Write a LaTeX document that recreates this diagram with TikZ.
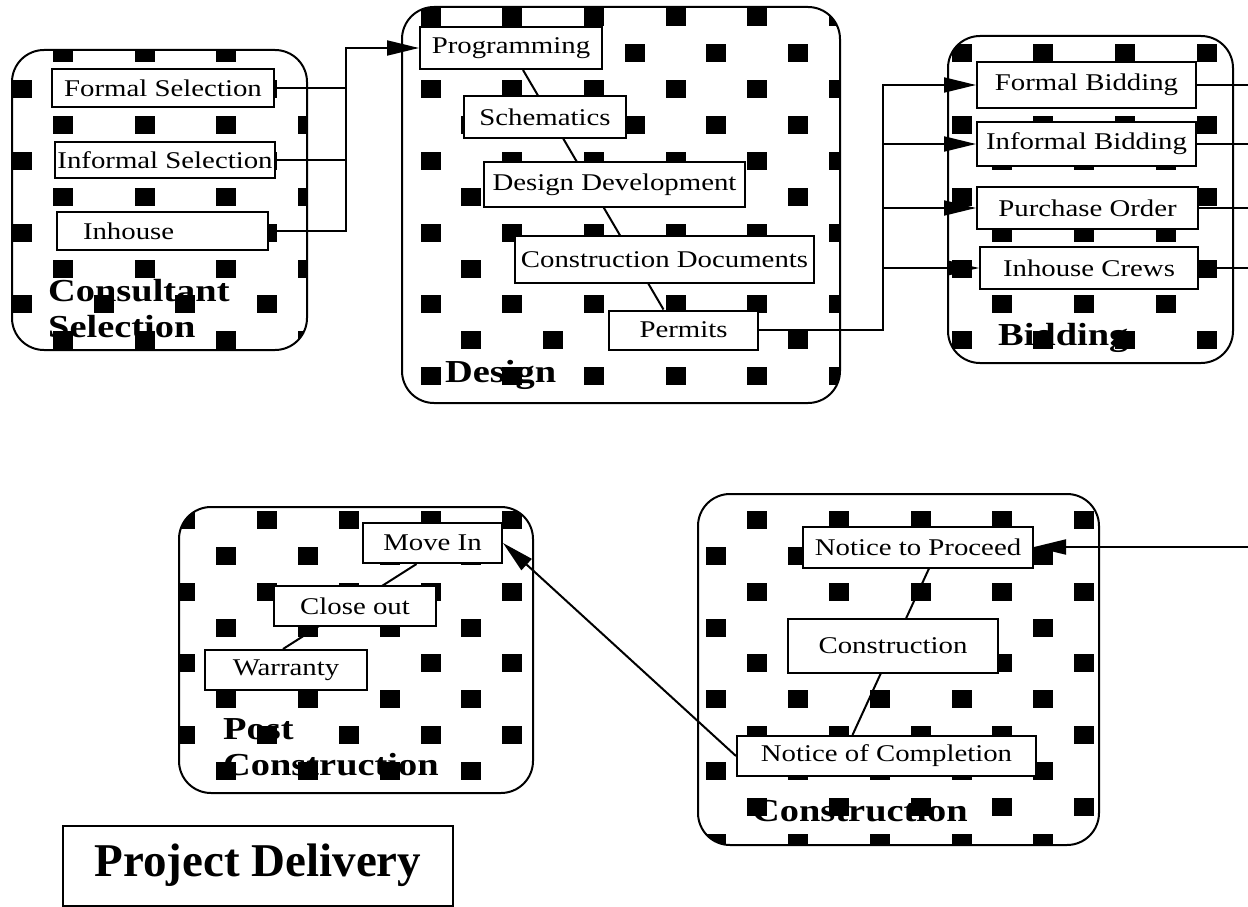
\documentclass[tikz,border=0pt]{standalone}
\usepackage{fontspec}
\setmainfont[FakeStretch=1.2]{Liberation Serif}
\newfontfamily\titlefont{Liberation Serif}
\usetikzlibrary{arrows.meta}
\pgfdeclarelayer{stages}
\pgfdeclarelayer{links}
\pgfsetlayers{stages,links,main}
% black checks of the stage fill, one global grid
\newcommand\checks{%
  \foreach \m in {-3,...,23}
    \foreach \k in {-1,...,15}
      {\fill ({12+81.7*\k+40.85*mod(\m+30,2)},{80+35.9*\m}) rectangle ++(20,18);}}
\begin{document}
\begin{tikzpicture}[x=1pt, y=-1pt,
  >={Triangle[length=32pt,width=15pt]},
  task/.style={draw, fill=white, line width=2pt, inner sep=0pt,
    font=\fontsize{24}{28}\selectfont},
  phase/.style={anchor=base west, align=left, inner sep=0pt,
    font=\fontsize{32}{36}\selectfont\bfseries}]
\useasboundingbox (0,0) rectangle (1248,907);
% stages: white box, label, checks, outline
\begin{pgfonlayer}{stages}
\foreach \x/\y/\X/\Y in {12/50/307/350, 402/7/840/403, 948/36/1233/363,
    179/507/533/793, 698/494/1099/845}
  {\fill[white, rounded corners=32] (\x,\y) rectangle (\X,\Y);}
\node[phase] (lcons) at (48,337) {Consultant\\Selection};
\node[phase] (ldes) at (445,382) {Design};
\node[phase] (lbid) at (998,345) {Bidding};
\node[phase] (lpost) at (223,775) {Post\\Construction};
\node[phase] (lbuild) at (752,821) {Construction};
\foreach \x/\y/\X/\Y in {12/50/307/350, 402/7/840/403, 948/36/1233/363,
    179/507/533/793, 698/494/1099/845}
  {\begin{scope}
   \clip[rounded corners=32] (\x,\y) rectangle (\X,\Y);
   \checks
   \end{scope}
   \draw[rounded corners=32, line width=2pt] (\x,\y) rectangle (\X,\Y);}
\end{pgfonlayer}
% steps of every stage
\foreach \n/\x/\y/\w/\h/\t in {
    fsel/163/88/222/37/Formal Selection,
    isel/165/160/220/36/Informal Selection,
    prog/511/48/182/42/Programming,
    schem/545/117/162/42/Schematics,
    dd/614.5/184.5/261/45/Design Development,
    cd/664.5/259.5/299/47/Construction Documents,
    perm/683.5/330/149/39/Permits,
    fbid/1086.5/85/219/45/Formal Bidding,
    ibid/1086.5/144/219/44/Informal Bidding,
    po/1087.5/208/221/42/Purchase Order,
    crews/1089/268/218/42/Inhouse Crews,
    movein/432.5/543/139/40/Move In,
    close/355/606/162/40/Close out,
    warr/286/670/162/40/Warranty,
    ntp/918/547/230/41/Notice to Proceed,
    cons/893/646/210/54/Construction,
    noc/886.5/756/299/40/Notice of Completion}
  {\node[task, minimum width=\w, minimum height=\h] (\n) at (\x,\y) {\t};}
\node[task, minimum height=38, text width=159, inner xsep=26, align=left]
  (inh) at (162.5,231) {Inhouse};
\node[draw, line width=2pt, minimum width=390, minimum height=80, inner sep=0pt,
  font=\fontsize{47}{50}\titlefont\bfseries] (title) at (258,865.5) {Project Delivery};
% connectors
\begin{pgfonlayer}{links}
\begin{scope}[line width=2pt]
\draw ([xshift=12]prog.south) -- ([xshift=-20]perm.north);
\draw ([xshift=-16]movein.south) -- ([xshift=-3]warr.north);
\draw ([xshift=11]ntp.south) -- ([xshift=-34]noc.north);
\coordinate (cbus) at (346,48);
\draw[->] (inh.east) -| (cbus) -- (prog.west);
\foreach \n in {fsel,isel} {\draw (\n.east) -- (\n.east -| cbus);}
\coordinate (bbus) at (883,85);
\draw[->] (perm.east) -| (bbus) -- (fbid.west);
\foreach \n in {ibid,po,crews} {\draw[->] (\n.west -| bbus) -- (\n.west);}
\coordinate (edge) at (1248,0);
\foreach \n in {fbid,ibid,po,crews} {\draw (\n.east) -- (\n.east -| edge);}
\draw[->] (ntp.east -| edge) -- (ntp.east);
\draw[->] (noc.west) -- (movein.east);
\end{scope}
\end{pgfonlayer}
\end{tikzpicture}
\end{document}
